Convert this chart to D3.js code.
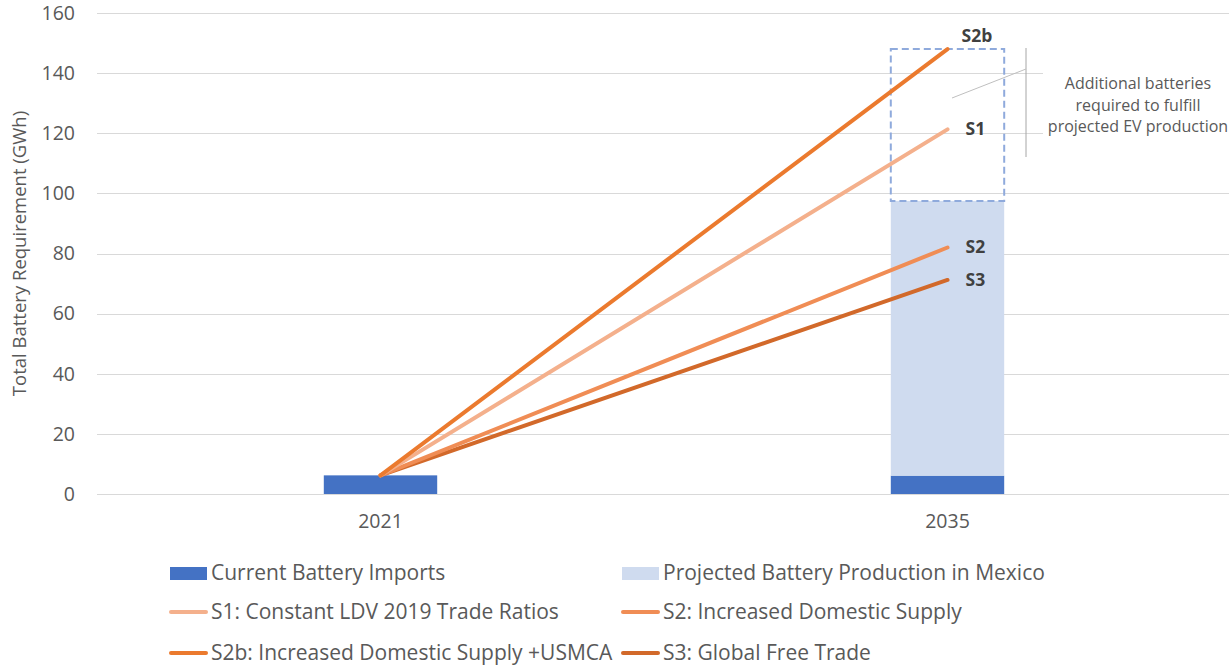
<!DOCTYPE html>
<html>
<head>
<meta charset="utf-8">
<script src="https://cdn.jsdelivr.net/npm/d3@7"></script>
<style>
  body { margin: 0; background: #fff; }
  svg { display: block; font-family: "Open Sans", Lato, sans-serif; }
</style>
</head>
<body>
<svg id="chart" width="1229" height="666"></svg>
<script>
// Years on the category axis
const years = ["2021", "2035"];
// Stacked bars (GWh)
const currentImports = [6.2, 6.1];
const projectedProduction = [0, 91.4];
// Scenario lines: value in 2021 and 2035 (GWh)
const scenarioNames = ["S1", "S2", "S2b", "S3"];
const scenarioLegend = [
  "S1: Constant LDV 2019 Trade Ratios",
  "S2: Increased Domestic Supply",
  "S2b: Increased Domestic Supply +USMCA",
  "S3: Global Free Trade"
];
const s1Values = [6.2, 121.3];
const s2Values = [6.2, 82];
const s2bValues = [6.2, 148];
const s3Values = [6.2, 71.2];
const yTicks = [0, 20, 40, 60, 80, 100, 120, 140, 160];
const noteLines = ["Additional batteries", "required to fulfill", "projected EV production"];

const colors = {
  imports: "#4472C4",
  projected: "#CFDBEF",
  S1: "#F4B08C",
  S2: "#F08D55",
  S2b: "#EB7A2E",
  S3: "#D2692A",
  text: "#595959",
  grid: "#D9D9D9"
};
const FONT = "'Open Sans', Lato, sans-serif";

const svg = d3.select("#chart");
const margin = { left: 97, right: -2, top: 13, bottom: 172 };
const W = 1229, H = 666;

const x = d3.scaleBand().domain(years).range([margin.left, W - margin.right]).paddingInner(0).paddingOuter(0);
const y = d3.scaleLinear().domain([0, 160]).range([H - margin.bottom, margin.top]);
const barW = x.bandwidth() * 0.2;
const cx = d => x(d) + x.bandwidth() / 2;

// Gridlines
svg.append("g").selectAll("line").data(yTicks).join("line")
  .attr("x1", margin.left).attr("x2", W)
  .attr("y1", d => Math.round(y(d)) + 0.5).attr("y2", d => Math.round(y(d)) + 0.5)
  .attr("stroke", colors.grid).attr("stroke-width", 1);

// Y axis labels
const yAxis = svg.append("g").attr("transform", `translate(${margin.left - 9},0)`)
  .call(d3.axisLeft(y).tickValues(yTicks).tickSize(0).tickPadding(13));
yAxis.select(".domain").remove();
yAxis.selectAll("text").attr("fill", colors.text).style("font-size", "19.5px")
  .style("font-family", FONT);

// X axis labels
const xAxis = svg.append("g").attr("transform", `translate(0,${y(0)})`)
  .call(d3.axisBottom(x).tickSize(0).tickPadding(20));
xAxis.select(".domain").remove();
xAxis.selectAll("text").attr("fill", colors.text).style("font-size", "19.5px")
  .style("font-family", FONT);

// Y axis title
svg.append("text")
  .attr("transform", `translate(26,${y(80)}) rotate(-90)`)
  .attr("text-anchor", "middle").attr("fill", colors.text)
  .style("font-size", "18.5px")
  .text("Total Battery Requirement (GWh)");

// Stacked bars
const stackData = years.map((yr, i) => ({ year: yr, imports: currentImports[i], projected: projectedProduction[i] }));
const series = d3.stack().keys(["imports", "projected"])(stackData);
svg.append("g").selectAll("g").data(series).join("g")
  .attr("fill", d => colors[d.key])
  .selectAll("rect").data(d => d).join("rect")
  .attr("x", d => cx(d.data.year) - barW / 2)
  .attr("width", barW)
  .attr("y", d => y(d[1]))
  .attr("height", d => y(d[0]) - y(d[1]));

// Dashed outline for the shortfall above projected production
const projTop = currentImports[1] + projectedProduction[1];
svg.append("rect")
  .attr("x", cx("2035") - barW / 2).attr("width", barW)
  .attr("y", y(s2bValues[1])).attr("height", y(projTop) - y(s2bValues[1]))
  .attr("fill", "none").attr("stroke", "#8FAADC").attr("stroke-width", 2)
  .attr("stroke-dasharray", "7,4");

// Scenario lines
const scen = [
  { key: "S1", v: s1Values },
  { key: "S2", v: s2Values },
  { key: "S2b", v: s2bValues },
  { key: "S3", v: s3Values }
];
const line = d3.line().x((d, i) => cx(years[i])).y(d => y(d));
const drawOrder = ["S3", "S2", "S1", "S2b"];
svg.append("g").selectAll("path").data(drawOrder.map(k => scen.find(s => s.key === k))).join("path")
  .attr("d", d => line(d.v))
  .attr("fill", "none").attr("stroke", d => colors[d.key])
  .attr("stroke-width", 4).attr("stroke-linecap", "round");

// Scenario end labels
const labelOffset = { S1: [18, 6], S2: [18, 6], S2b: [14, -7], S3: [18, 6] };
svg.append("g").selectAll("text").data(scen).join("text")
  .attr("x", d => cx("2035") + labelOffset[d.key][0])
  .attr("y", d => y(d.v[1]) + labelOffset[d.key][1])
  .attr("fill", "#404040").style("font-size", "17.5px").style("font-weight", "bold")
  .style("font-family", FONT)
  .text(d => d.key);

// Annotation: bracket, pointer and note
const bx = 1026;
svg.append("rect").attr("x", 1043).attr("y", 62).attr("width", 190).attr("height", 78).attr("fill", "#fff");
svg.append("line").attr("x1", bx).attr("x2", bx).attr("y1", 48).attr("y2", 157)
  .attr("stroke", "#A6A6A6").attr("stroke-width", 1);
svg.append("line").attr("x1", 952).attr("y1", 98).attr("x2", bx).attr("y2", 69)
  .attr("stroke", "#BFBFBF").attr("stroke-width", 1);
svg.append("g").selectAll("text").data(noteLines).join("text")
  .attr("x", 1138).attr("y", (d, i) => 89 + i * 21.5)
  .attr("text-anchor", "middle").attr("fill", colors.text)
  .style("font-size", "16px").text(d => d);

// Legend
const legendItems = [
  { label: "Current Battery Imports", color: colors.imports, type: "rect" },
  { label: "Projected Battery Production in Mexico", color: colors.projected, type: "rect" },
  { label: scenarioLegend[0], color: colors.S1, type: "line" },
  { label: scenarioLegend[1], color: colors.S2, type: "line" },
  { label: scenarioLegend[2], color: colors.S2b, type: "line" },
  { label: scenarioLegend[3], color: colors.S3, type: "line" }
];
const colX = [170, 622];
const rowY = [573, 612, 653];
const lg = svg.append("g").selectAll("g").data(legendItems).join("g")
  .attr("transform", (d, i) => `translate(${colX[i % 2]},${rowY[Math.floor(i / 2)]})`);
lg.filter(d => d.type === "rect").append("rect")
  .attr("x", 0).attr("y", -6).attr("width", 37).attr("height", 13).attr("fill", d => d.color);
lg.filter(d => d.type === "line").append("line")
  .attr("x1", 1).attr("x2", 36).attr("y1", 0).attr("y2", 0)
  .attr("stroke", d => d.color).attr("stroke-width", 4).attr("stroke-linecap", "round");
lg.append("text").attr("x", 41).attr("y", 7).attr("fill", colors.text)
  .style("font-size", "21px").text(d => d.label);
</script>
</body>
</html>
